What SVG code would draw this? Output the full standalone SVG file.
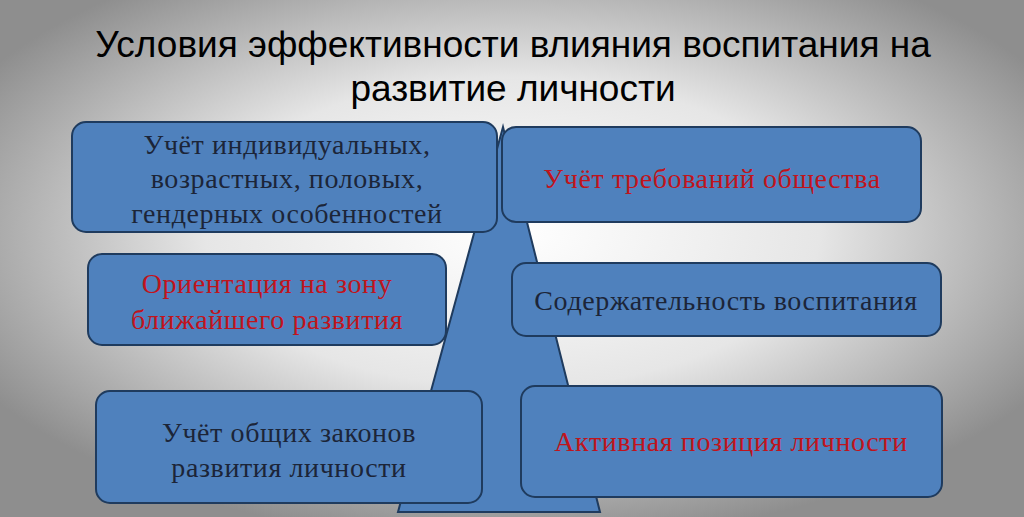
<svg xmlns="http://www.w3.org/2000/svg" width="1024" height="517" viewBox="0 0 1024 517">
<defs>
<radialGradient id="bg" cx="50%" cy="45%" r="60%">
<stop offset="0" stop-color="#ffffff"/><stop offset="0.5" stop-color="#e6e6e6"/><stop offset="1" stop-color="#8e8e8e"/>
</radialGradient>
<style>
.b{fill:#4f81bd;stroke:#1f3b5e;stroke-width:2}
.t{font-family:"Liberation Serif",serif;font-size:28px;letter-spacing:0.6px;text-anchor:middle;fill:#1c2538}
.r{fill:#c0141c}
.h{font-family:"Liberation Sans",sans-serif;font-size:37px;text-anchor:middle;fill:#000}
</style>
</defs>
<rect width="1024" height="517" fill="url(#bg)"/>
<text class="h" x="513" y="57">Условия эффективности влияния воспитания на</text>
<text class="h" x="513" y="101">развитие личности</text>
<g id="triangle"><polygon points="503,127 398,512 600,512" class="b"/></g>
<g id="n1"><rect class="b" x="72" y="122" width="425" height="110" rx="14"/>
<text class="t" x="287" y="154">Учёт индивидуальных,</text><text class="t" x="287" y="188">возрастных, половых,</text><text class="t" x="287" y="223">гендерных особенностей</text></g>
<g id="n2"><rect class="b" x="502" y="127" width="419" height="95" rx="14"/>
<text class="t r" x="712" y="188">Учёт требований общества</text></g>
<g id="n3"><rect class="b" x="88" y="254" width="358" height="91" rx="14"/>
<text class="t r" x="267" y="293">Ориентация на зону</text><text class="t r" x="267" y="329">ближайшего развития</text></g>
<g id="n4"><rect class="b" x="512" y="263" width="429" height="73" rx="14"/>
<text class="t" x="726" y="310">Содержательность воспитания</text></g>
<g id="n5"><rect class="b" x="96" y="391" width="386" height="112" rx="14"/>
<text class="t" x="289" y="442">Учёт общих законов</text><text class="t" x="289" y="477">развития личности</text></g>
<g id="n6"><rect class="b" x="521" y="386" width="421" height="111" rx="14"/>
<text class="t r" x="731" y="451">Активная позиция личности</text></g>
<g id="connectors"/>
</svg>
